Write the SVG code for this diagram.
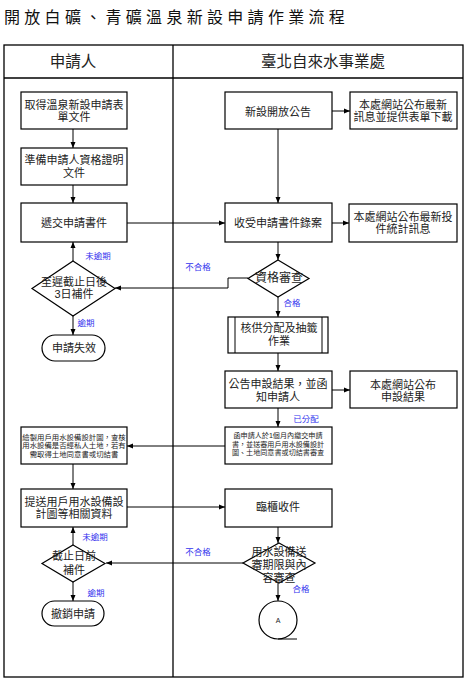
<svg xmlns="http://www.w3.org/2000/svg" width="472" height="681" viewBox="0 0 472 681">
<defs>
<style>
text{font-family:"Liberation Sans","Noto Sans CJK TC",sans-serif;fill:#222;text-anchor:middle;dominant-baseline:central}
.t{font-size:11px}
.s{font-size:7.1px}
.h{font-size:15.5px}
.lb{font-size:8.5px;fill:#3333ee}
.box{fill:#fff;stroke:#000;stroke-width:1.2}
.frame{fill:none;stroke:#000;stroke-width:1.3}
.c{fill:none;stroke:#000;stroke-width:1}
</style>
<marker id="ar" markerUnits="userSpaceOnUse" markerWidth="6" markerHeight="6" refX="6" refY="3" orient="auto">
<path d="M0,0.5 L6,3 L0,5.5 z" fill="#000"/>
</marker>
</defs>
<rect width="472" height="681" fill="#fff"/>
<text x="4" y="17" style="font-size:16px;text-anchor:start;letter-spacing:4.3px;fill:#111">開放白礦、青礦溫泉新設申請作業流程</text>
<g id="lanes">
<rect class="frame" x="4" y="45" width="459" height="632"/>
<line class="frame" x1="4" y1="78" x2="463" y2="78"/>
<line class="frame" x1="173" y1="45" x2="173" y2="677"/>
<text class="h" x="73" y="61">申請人</text>
<text class="h" x="323" y="61">臺北自來水事業處</text>
</g>
<g id="connectors">
<line class="c" x1="73" y1="129" x2="73" y2="148" marker-end="url(#ar)"/>
<line class="c" x1="73" y1="185" x2="73" y2="203" marker-end="url(#ar)"/>
<line class="c" x1="127" y1="223" x2="225" y2="223" marker-end="url(#ar)"/>
<line class="c" x1="332" y1="111" x2="350" y2="111" marker-end="url(#ar)"/>
<line class="c" x1="278" y1="129" x2="278" y2="203" marker-end="url(#ar)"/>
<line class="c" x1="332" y1="223" x2="349" y2="223" marker-end="url(#ar)"/>
<line class="c" x1="278" y1="242" x2="278" y2="260" marker-end="url(#ar)"/>
<polyline class="c" points="248,278 228,278 228,288 115,288" marker-end="url(#ar)"/>
<line class="c" x1="73" y1="261" x2="73" y2="242" marker-end="url(#ar)"/>
<line class="c" x1="73" y1="316" x2="73" y2="335" marker-end="url(#ar)"/>
<line class="c" x1="278" y1="297" x2="278" y2="317" marker-end="url(#ar)"/>
<line class="c" x1="278" y1="353" x2="278" y2="371" marker-end="url(#ar)"/>
<line class="c" x1="332" y1="390" x2="350" y2="390" marker-end="url(#ar)"/>
<line class="c" x1="278" y1="408" x2="278" y2="427" marker-end="url(#ar)"/>
<line class="c" x1="225" y1="446" x2="127" y2="446" marker-end="url(#ar)"/>
<line class="c" x1="73" y1="464" x2="73" y2="489" marker-end="url(#ar)"/>
<line class="c" x1="127" y1="507" x2="225" y2="507" marker-end="url(#ar)"/>
<line class="c" x1="278" y1="527" x2="278" y2="543" marker-end="url(#ar)"/>
<line class="c" x1="243" y1="563" x2="106" y2="563" marker-end="url(#ar)"/>
<line class="c" x1="73" y1="545" x2="73" y2="527" marker-end="url(#ar)"/>
<line class="c" x1="73" y1="582" x2="73" y2="601" marker-end="url(#ar)"/>
<line class="c" x1="278" y1="583" x2="278" y2="601" marker-end="url(#ar)"/>
<text class="lb" x="98" y="256">未逾期</text>
<text class="lb" x="86" y="323">逾期</text>
<text class="lb" x="198" y="267">不合格</text>
<text class="lb" x="292" y="303">合格</text>
<text class="lb" x="306" y="419">已分配</text>
<text class="lb" x="95" y="537">未逾期</text>
<text class="lb" x="96" y="593">逾期</text>
<text class="lb" x="198" y="552">不合格</text>
<text class="lb" x="301" y="589">合格</text>
</g>
<g id="n1"><rect class="box" x="21" y="92" width="106" height="37"/><text class="t" x="74" y="105">取得溫泉新設申請表</text><text class="t" x="74" y="117">單文件</text></g>
<g id="n2"><rect class="box" x="21" y="148" width="106" height="37"/><text class="t" x="74" y="160">準備申請人資格證明</text><text class="t" x="74" y="173">文件</text></g>
<g id="n3"><rect class="box" x="21" y="203" width="106" height="39"/><text class="t" x="74" y="223">遞交申請書件</text></g>
<g id="n4"><rect class="box" x="225" y="92" width="107" height="37"/><text class="t" x="278" y="112">新設開放公告</text></g>
<g id="n5"><rect class="box" x="350" y="92" width="107" height="37"/><text class="t" x="403" y="105">本處網站公布最新</text><text class="t" x="403" y="117">訊息並提供表單下載</text></g>
<g id="n6"><rect class="box" x="225" y="203" width="107" height="39"/><text class="t" x="278" y="223">收受申請書件錄案</text></g>
<g id="n7"><rect class="box" x="349" y="204" width="108" height="38"/><text class="t" x="403" y="217">本處網站公布最新投</text><text class="t" x="403" y="229">件統計訊息</text></g>
<g id="n8"><polygon class="box" points="278,260 309,278.5 278,297 248,278.5"/><text class="t" x="279" y="278" style="font-size:12px">資格審查</text></g>
<g id="n9"><polygon class="box" points="73,261 115,288.5 73,316 32,288.5"/><text class="t" x="74" y="282">至遲截止日後</text><text class="t" x="74" y="294">3日補件</text></g>
<g id="n10"><rect class="box" x="42" y="335" width="63" height="26" rx="13"/><text class="t" x="74" y="348">申請失效</text></g>
<g id="n11"><rect class="box" x="228" y="317" width="100" height="36"/><line class="c" x1="235" y1="317" x2="235" y2="353"/><line class="c" x1="322" y1="317" x2="322" y2="353"/><text class="t" x="279" y="328">核供分配及抽籤</text><text class="t" x="279" y="341">作業</text></g>
<g id="n12"><rect class="box" x="225" y="371" width="107" height="37"/><text class="t" x="278" y="384">公告申設結果，並函</text><text class="t" x="278" y="397">知申請人</text></g>
<g id="n13"><rect class="box" x="350" y="371" width="107" height="37"/><text class="t" x="403" y="385">本處網站公布</text><text class="t" x="403" y="397">申設結果</text></g>
<g id="n14"><rect class="box" x="225" y="427" width="107" height="37"/><text class="s" x="278" y="436">函申請人於1個月內繳交申請</text><text class="s" x="278" y="444.5">書，並送審用戶用水設備設計</text><text class="s" x="278" y="453">圖、土地同意書或切結書審查</text></g>
<g id="n15"><rect class="box" x="21" y="427" width="106" height="37"/><text class="s" x="74" y="437" style="font-size:7.4px">繪製用戶用水設備設計圖，查核</text><text class="s" x="74" y="445.5" style="font-size:7.4px">用水設備是否經私人土地，若有</text><text class="s" x="74" y="454" style="font-size:7.4px">需取得土地同意書或切結書</text></g>
<g id="n16"><rect class="box" x="21" y="489" width="106" height="38"/><text class="t" x="74" y="502">提送用戶用水設備設</text><text class="t" x="74" y="514">計圖等相關資料</text></g>
<g id="n17"><rect class="box" x="225" y="489" width="107" height="38"/><text class="t" x="278" y="507">臨櫃收件</text></g>
<g id="n18"><polygon class="box" points="279,543 315,563 279,583 243,563"/><text class="t" x="279" y="552">用水設備送</text><text class="t" x="279" y="565">審期限與內</text><text class="t" x="279" y="578">容審查</text></g>
<g id="n19"><polygon class="box" points="73,545 105,563.5 73,582 42,563.5"/><text class="t" x="74" y="556">截止日前</text><text class="t" x="74" y="570">補件</text></g>
<g id="n20"><rect class="box" x="42" y="601" width="62" height="25" rx="12.5"/><text class="t" x="73" y="613.5">撤銷申請</text></g>
<g id="n21"><circle class="box" cx="278" cy="620" r="19"/><line class="c" x1="278" y1="639" x2="297" y2="639"/><text x="278" y="620" style="font-size:7px">A</text></g>
</svg>
